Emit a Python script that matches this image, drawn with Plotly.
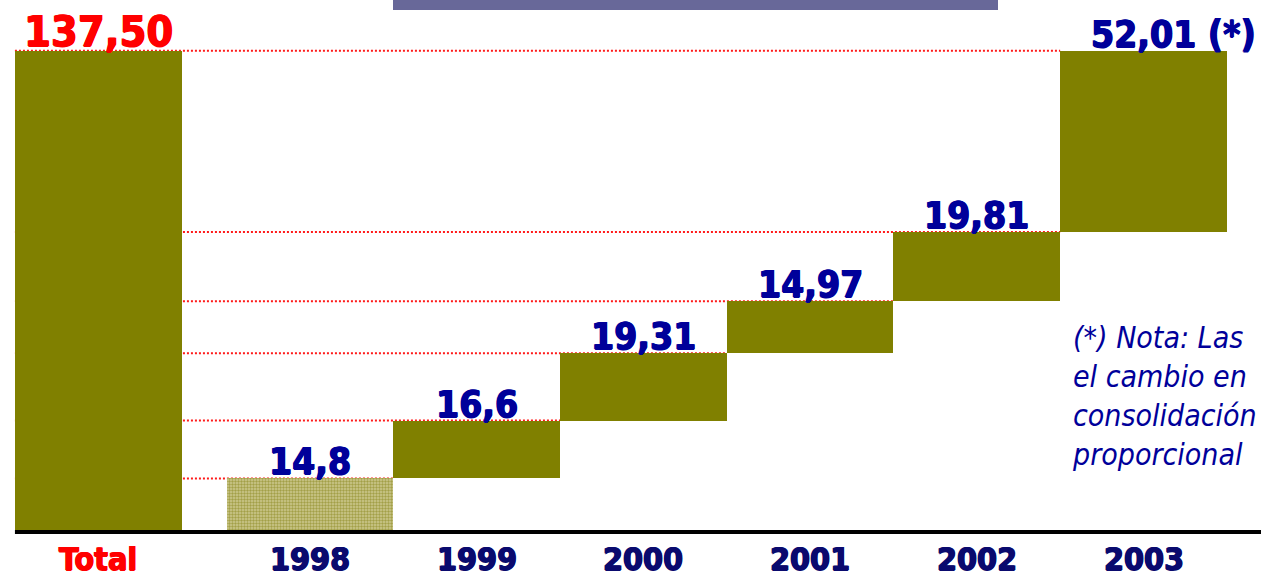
import numpy as np
import plotly.graph_objects as go

# ---------------- data ----------------
categories = ["Total", "1998", "1999", "2000", "2001", "2002", "2003"]
total_value = 137.50
year_increments = [14.8, 16.6, 19.31, 14.97, 19.81, 52.01]
value_labels = ["137,50", "14,8", "16,6", "19,31", "14,97", "19,81", "52,01 (*)"]
note_lines = ["(*) Nota: Las", "el cambio en", "consolidación", "proporcional"]

# ---------------- derived ----------------
cum = np.cumsum(year_increments)
bar_values = [total_value] + list(year_increments)
bar_bases = [0.0, 0.0] + list(cum[:-1])
bar_tops = [b + v for b, v in zip(bar_bases, bar_values)]

# ---------------- layout / style ----------------
x_pos = [-1.27, 0, 1, 2, 3, 4, 5]
bar_w = 1.0
OLIVE = "#808000"
FONT = "DejaVu Sans Condensed, DejaVu Sans, sans-serif"
VAL_COLOR = "#00009a"
TICK_COLOR = "#0a0a6e"


def heavy(color):
    return f"0.7px 0 0 {color}, -0.7px 0 0 {color}, 0 0.5px 0 {color}"


pattern_shapes = ["", ".", "", "", "", "", ""]

fig = go.Figure()
fig.add_trace(go.Bar(
    x=x_pos, y=bar_values, base=bar_bases, width=bar_w,
    marker=dict(
        color=OLIVE, line=dict(width=0),
        pattern=dict(shape=pattern_shapes, fgcolor="#7a7600", bgcolor="#cdc990",
                     size=3, solidity=0.5, fillmode="overlay"),
    ),
    hoverinfo="skip", showlegend=False,
))

shapes = []
left_edge = x_pos[0] - bar_w / 2
DOT = dict(color="#ff1a1a", width=2, dash="2px,2px")
# red dotted guide lines at each cumulative level
for k in range(len(year_increments) - 1):
    shapes.append(dict(type="line", xref="x", yref="y", layer="below",
                       x0=left_edge, x1=x_pos[k + 1] + bar_w / 2,
                       y0=cum[k], y1=cum[k], line=DOT))
shapes.append(dict(type="line", xref="x", yref="y", layer="below",
                   x0=left_edge, x1=x_pos[-1] - bar_w / 2,
                   y0=total_value, y1=total_value, line=DOT))
# baseline
shapes.append(dict(type="line", xref="x", yref="paper", layer="above",
                   x0=left_edge, x1=6.5, y0=-2 / 530, y1=-2 / 530,
                   line=dict(color="black", width=4)))
# purple header strip
shapes.append(dict(type="rect", xref="paper", yref="paper", layer="above",
                   x0=393 / 1261, x1=998 / 1261, y0=1 - 10 / 530, y1=1.02,
                   fillcolor="#686899", line=dict(width=0)))

annotations = []
for i, (xp, top, lab) in enumerate(zip(x_pos, bar_tops, value_labels)):
    col = "#ff0000" if i == 0 else VAL_COLOR
    annotations.append(dict(
        x=xp, y=top, xref="x", yref="y", yanchor="bottom", xanchor="center",
        text=f"<b>{lab}</b>", showarrow=False,
        xshift=30 if i == 6 else 0, yshift=-7,
        font=dict(family=FONT, size=43 if i == 0 else 37, color=col,
                  shadow=heavy(col)),
    ))
for i, (xp, cat) in enumerate(zip(x_pos, categories)):
    col = "#ff0000" if i == 0 else TICK_COLOR
    annotations.append(dict(
        x=xp, y=0, xref="x", yref="paper", yanchor="top", xanchor="center",
        text=f"<b>{cat}</b>", showarrow=False,
        yshift=-8,
        font=dict(family=FONT, size=32, color=col, shadow=heavy(col)),
    ))
annotations.append(dict(
    x=1070 / 1261, y=1 - 318 / 530, xref="paper", yref="paper",
    xanchor="left", yanchor="top", align="left", showarrow=False,
    text="<br>".join(note_lines),
    font=dict(family=FONT, size=30, color=VAL_COLOR, style="italic"),
))

fig.update_layout(
    width=1261, height=577,
    margin=dict(l=0, r=0, t=0, b=47),
    paper_bgcolor="white", plot_bgcolor="white",
    xaxis=dict(range=[-310 / 166.7, (1261 - 310) / 166.7], visible=False, fixedrange=True),
    yaxis=dict(range=[0, 152.1], visible=False, fixedrange=True),
    shapes=shapes, annotations=annotations,
    bargap=0, showlegend=False,
)
fig.update_traces(cliponaxis=False)

fig.write_html(
    "out.html",
    config={"displayModeBar": False, "staticPlot": True},
    post_script="document.body.style.margin='0';document.body.style.overflow='hidden';",
)
